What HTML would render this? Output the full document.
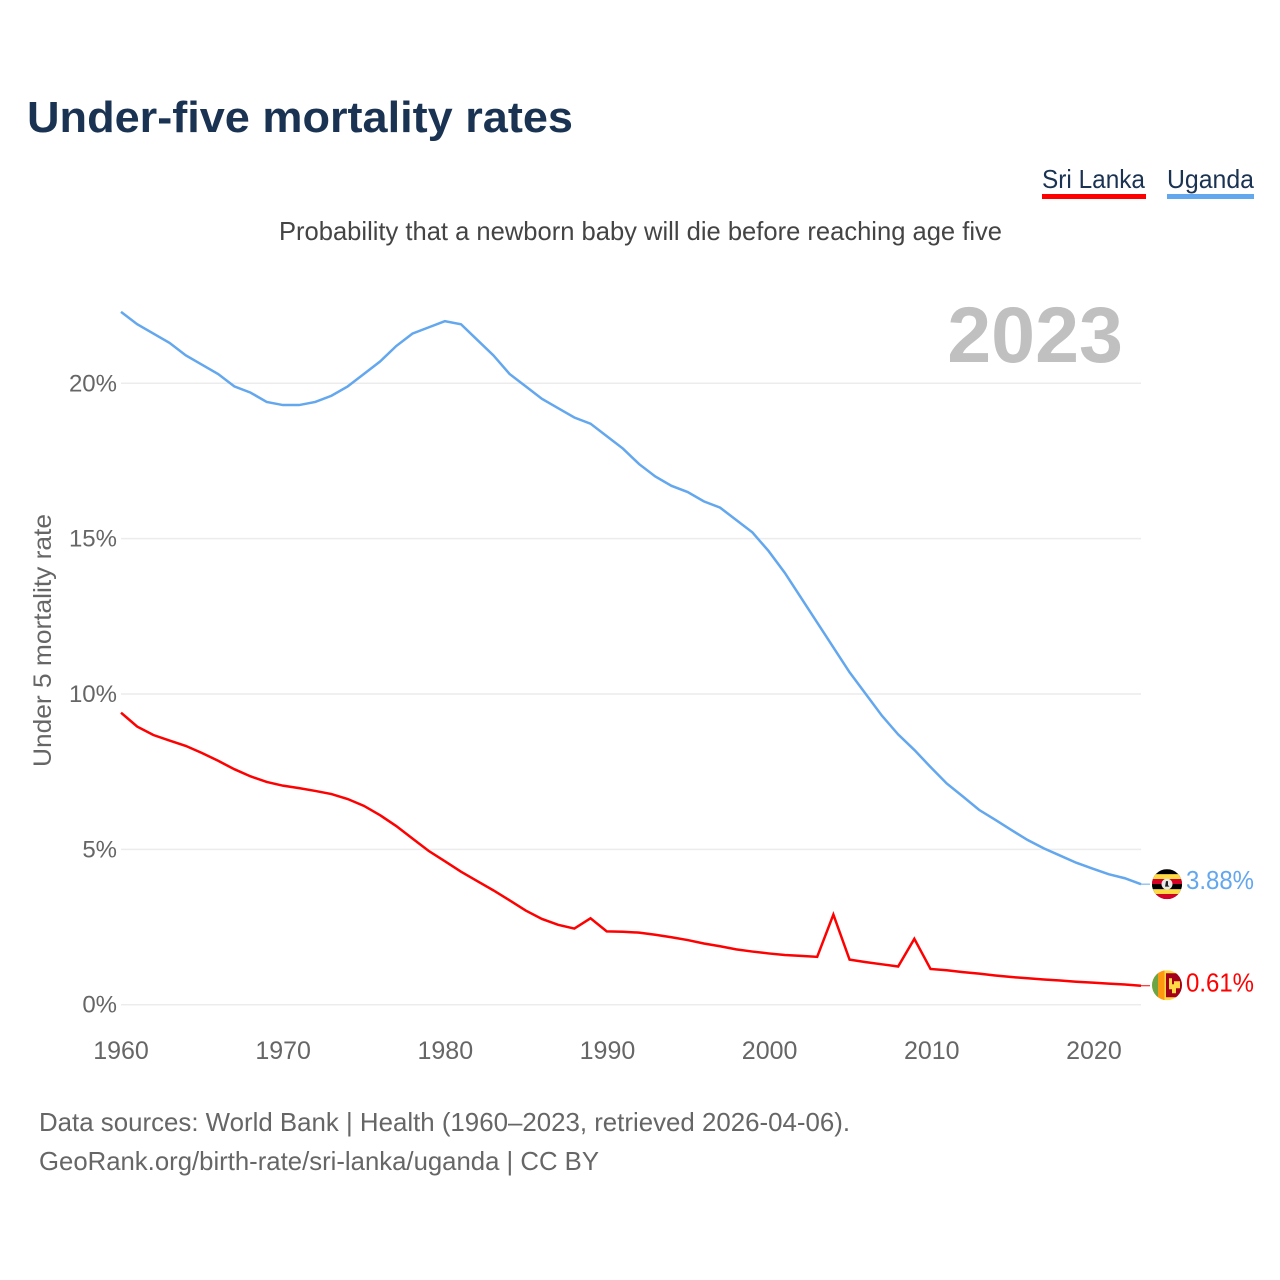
<!DOCTYPE html>
<html lang="en">
<head>
<meta charset="utf-8">
<title>Under-five mortality rates</title>
<style>
html,body{margin:0;padding:0;background:#fff;}
svg{display:block;}
text{font-family:"Liberation Sans",sans-serif;}
</style>
</head>
<body>
<svg id="chart" xmlns="http://www.w3.org/2000/svg" width="1280" height="1280" viewBox="0 0 1280 1280">
  <defs>
    <clipPath id="flag-clip"><circle cx="0" cy="0" r="15"></circle></clipPath>
  </defs>
  <rect x="0" y="0" width="1280" height="1280" fill="#ffffff"></rect>

  <text x="27" y="132" font-size="44" font-weight="700" fill="#1a3352" textLength="546" lengthAdjust="spacingAndGlyphs">Under-five mortality rates</text>

  <g>
    <text x="1042" y="188" font-size="26" fill="#1a3352" textLength="103" lengthAdjust="spacingAndGlyphs">Sri Lanka</text>
    <rect x="1042" y="194" width="104" height="5" fill="#ff0000"></rect>
    <text x="1167" y="188" font-size="26" fill="#1a3352" textLength="87" lengthAdjust="spacingAndGlyphs">Uganda</text>
    <rect x="1167" y="194" width="87" height="5" fill="#63a7ee"></rect>
  </g>

  <text x="279" y="240" font-size="26" fill="#444444" textLength="723" lengthAdjust="spacingAndGlyphs">Probability that a newborn baby will die before reaching age five</text>

  <text transform="translate(51,767) rotate(-90)" x="0" y="0" font-size="25" fill="#666666" textLength="253" lengthAdjust="spacingAndGlyphs">Under 5 mortality rate</text>

  <g id="grid-layer"></g>
  <g id="y-tick-layer"></g>
  <g id="x-tick-layer"></g>

  <text x="1123" y="362" text-anchor="end" font-size="79" font-weight="700" fill="#c0c0c0">2023</text>

  <g id="series-layer"></g>

  <g id="flag-uganda">
    <g clip-path="url(#flag-clip)">
      <rect x="-15" y="-15" width="30" height="30" fill="#000000"></rect>
      <rect x="-15" y="-10" width="30" height="5" fill="#ffda44"></rect>
      <rect x="-15" y="-5" width="30" height="5" fill="#d80027"></rect>
      <rect x="-15" y="0" width="30" height="5" fill="#000000"></rect>
      <rect x="-15" y="5" width="30" height="5" fill="#ffda44"></rect>
      <rect x="-15" y="10" width="30" height="5" fill="#d80027"></rect>
      <circle cx="0" cy="0" r="5.5" fill="#e8e8e8"></circle>
      <path d="M-1 -3 L1 -3 L1 1 L2.5 2.5 L-2 2.5 Z" fill="#222222"></path>
    </g>
  </g>

  <g id="flag-sri-lanka">
    <g clip-path="url(#flag-clip)">
      <rect x="-15" y="-15" width="30" height="30" fill="#ffda44"></rect>
      <rect x="-15" y="-15" width="6" height="30" fill="#6da544"></rect>
      <rect x="-9" y="-15" width="6.5" height="30" fill="#ff9811"></rect>
      <rect x="-1" y="-12" width="16" height="24" fill="#a2001d"></rect>
      <path d="M2 -7 L5 -7 L5 -1 L7 -1 L7 -4 L13 -4 L13 3 L9 3 L9 8 L5 8 L5 4 L2 4 Z" fill="#ffda44"></path>
    </g>
  </g>

  <text id="end-label-uganda" x="1186" font-size="26" fill="#63a7ee" textLength="68" lengthAdjust="spacingAndGlyphs"></text>
  <text id="end-label-sri-lanka" x="1186" font-size="26" fill="#ff0000" textLength="68" lengthAdjust="spacingAndGlyphs"></text>

  <g>
    <text x="39" y="1131" font-size="26" fill="#666666" textLength="811" lengthAdjust="spacingAndGlyphs">Data sources: World Bank | Health (1960–2023, retrieved 2026-04-06).</text>
    <text x="39" y="1170" font-size="26" fill="#666666" textLength="560" lengthAdjust="spacingAndGlyphs">GeoRank.org/birth-rate/sri-lanka/uganda | CC BY</text>
  </g>
</svg>

<script>
const firstYear = 1960;
const yTickValues = [0, 5, 10, 15, 20];
const yTickLabels = ["0%", "5%", "10%", "15%", "20%"];
const xTickValues = [1960, 1970, 1980, 1990, 2000, 2010, 2020];
const xTickLabels = ["1960", "1970", "1980", "1990", "2000", "2010", "2020"];

const ugandaValues = [
  22.3, 21.9, 21.6, 21.3, 20.9, 20.6, 20.3, 19.9, 19.7, 19.4,
  19.3, 19.3, 19.4, 19.6, 19.9, 20.3, 20.7, 21.2, 21.6, 21.8,
  22.0, 21.9, 21.4, 20.9, 20.3, 19.9, 19.5, 19.2, 18.9, 18.7,
  18.3, 17.9, 17.4, 17.0, 16.7, 16.5, 16.2, 16.0, 15.6, 15.2,
  14.6, 13.9, 13.1, 12.3, 11.5, 10.7, 10.0, 9.3, 8.7, 8.2,
  7.65, 7.12, 6.7, 6.27, 5.95, 5.62, 5.3, 5.03, 4.8, 4.57,
  4.38, 4.2, 4.07, 3.88
];
const sriLankaValues = [
  9.4, 8.95, 8.68, 8.5, 8.33, 8.1, 7.85, 7.58, 7.35, 7.17,
  7.05, 6.97, 6.88, 6.78, 6.62, 6.4, 6.1, 5.75, 5.35, 4.95,
  4.62, 4.28, 3.98, 3.68, 3.36, 3.03, 2.76, 2.57, 2.45, 2.78,
  2.36, 2.35, 2.32, 2.25, 2.17, 2.08, 1.97, 1.88, 1.78, 1.71,
  1.65, 1.6, 1.57, 1.54, 2.9, 1.45, 1.37, 1.3, 1.23, 2.12,
  1.15, 1.11, 1.05, 1.0, 0.94, 0.89, 0.85, 0.81, 0.78, 0.74,
  0.71, 0.68, 0.65, 0.61
];

const SVG_NS = "http://www.w3.org/2000/svg";
const xScale = function (year) { return 121 + (year - 1960) * (1141 - 121) / 63; };
const yScale = function (value) { return 1004.7 - value * (1004.7 - 383.3) / 20; };

const gridLayer = document.getElementById("grid-layer");
const yTickLayer = document.getElementById("y-tick-layer");
const xTickLayer = document.getElementById("x-tick-layer");
const seriesLayer = document.getElementById("series-layer");

yTickValues.forEach(function (value, i) {
  const line = document.createElementNS(SVG_NS, "line");
  
  
  line.setAttribute("x1", xScale(1960));
  line.setAttribute("x2", xScale(2023));
  line.setAttribute("y1", yScale(value));
  line.setAttribute("y2", yScale(value));
  line.setAttribute("stroke", "#ececec");
  line.setAttribute("stroke-width", "1.5");
  gridLayer.appendChild(line);

  const label = document.createElementNS(SVG_NS, "text");
  
  
  label.setAttribute("x", 117);
  label.setAttribute("y", yScale(value) + 8);
  label.setAttribute("text-anchor", "end");
  label.setAttribute("font-size", "24");
  label.setAttribute("fill", "#666666");
  label.textContent = yTickLabels[i];
  yTickLayer.appendChild(label);
});

xTickValues.forEach(function (year, i) {
  const label = document.createElementNS(SVG_NS, "text");
  
  
  label.setAttribute("x", xScale(year) + (year - 1960) * 0.025);
  label.setAttribute("y", 1059);
  label.setAttribute("text-anchor", "middle");
  label.setAttribute("font-size", "25");
  label.setAttribute("fill", "#666666");
  label.textContent = xTickLabels[i];
  xTickLayer.appendChild(label);
});

function buildPoints(values) {
  return values.map(function (v, i) {
    return xScale(firstYear + i).toFixed(2) + "," + yScale(v).toFixed(2);
  }).join(" ");
}

const ugandaLine = document.createElementNS(SVG_NS, "polyline");


ugandaLine.setAttribute("points", buildPoints(ugandaValues));
ugandaLine.setAttribute("fill", "none");
ugandaLine.setAttribute("stroke", "#63a7ee");
ugandaLine.setAttribute("stroke-width", "2.5");
seriesLayer.appendChild(ugandaLine);

const sriLankaLine = document.createElementNS(SVG_NS, "polyline");


sriLankaLine.setAttribute("points", buildPoints(sriLankaValues));
sriLankaLine.setAttribute("fill", "none");
sriLankaLine.setAttribute("stroke", "#ff0000");
sriLankaLine.setAttribute("stroke-width", "2.5");
seriesLayer.appendChild(sriLankaLine);

const ugandaLast = ugandaValues[ugandaValues.length - 1];
const sriLankaLast = sriLankaValues[sriLankaValues.length - 1];

const ugandaConnector = document.createElementNS(SVG_NS, "line");


ugandaConnector.setAttribute("x1", xScale(2023));
ugandaConnector.setAttribute("x2", xScale(2023) + 9);
ugandaConnector.setAttribute("y1", yScale(ugandaLast));
ugandaConnector.setAttribute("y2", yScale(ugandaLast));
ugandaConnector.setAttribute("stroke", "#63a7ee");
ugandaConnector.setAttribute("stroke-width", "1");
seriesLayer.appendChild(ugandaConnector);

const sriLankaConnector = document.createElementNS(SVG_NS, "line");


sriLankaConnector.setAttribute("x1", xScale(2023));
sriLankaConnector.setAttribute("x2", xScale(2023) + 9);
sriLankaConnector.setAttribute("y1", yScale(sriLankaLast));
sriLankaConnector.setAttribute("y2", yScale(sriLankaLast));
sriLankaConnector.setAttribute("stroke", "#ff0000");
sriLankaConnector.setAttribute("stroke-width", "1");
seriesLayer.appendChild(sriLankaConnector);

document.getElementById("flag-uganda").setAttribute("transform", "translate(1167," + yScale(ugandaLast) + ")");
document.getElementById("flag-sri-lanka").setAttribute("transform", "translate(1167," + (yScale(sriLankaLast) - 0.5) + ")");

const ugandaEnd = document.getElementById("end-label-uganda");
ugandaEnd.setAttribute("y", yScale(ugandaLast) + 5);
ugandaEnd.textContent = ugandaLast.toFixed(2) + "%";

const sriLankaEnd = document.getElementById("end-label-sri-lanka");
sriLankaEnd.setAttribute("y", yScale(sriLankaLast) + 6);
sriLankaEnd.textContent = sriLankaLast.toFixed(2) + "%";
</script>
</body>
</html>
